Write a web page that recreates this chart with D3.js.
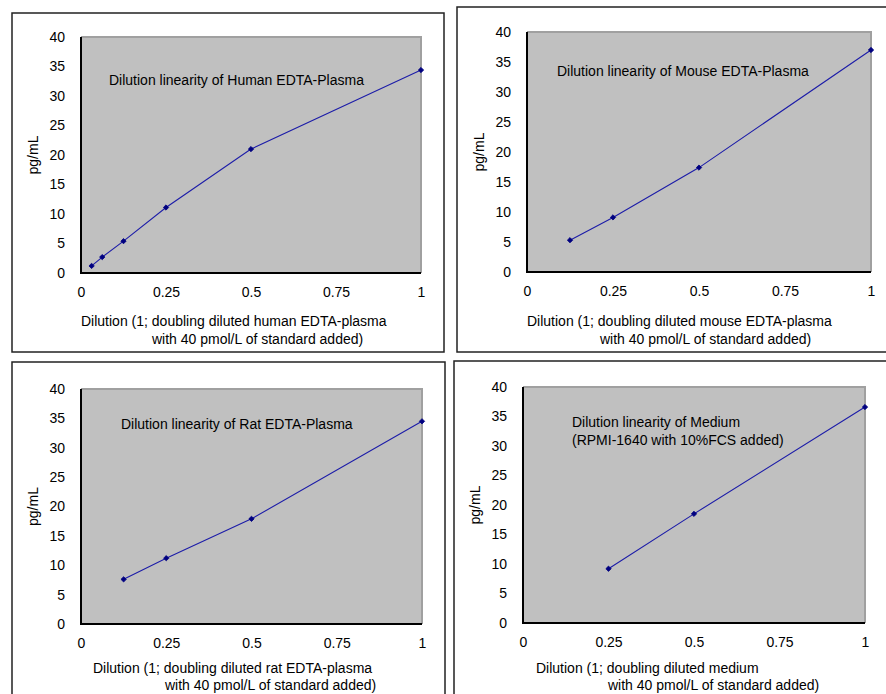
<!DOCTYPE html>
<html>
<head>
<meta charset="utf-8">
<script src="https://cdn.jsdelivr.net/npm/d3@7"></script>
<style>
  body { margin: 0; background: #fff; }
  svg { display: block; font-family: "Liberation Sans", Arial, sans-serif; }
</style>
</head>
<body>
<svg id="chart" width="886" height="694"></svg>
<script>
// data
var xTicks = [0, 0.25, 0.5, 0.75, 1];
var xTickLabels = ["0", "0.25", "0.5", "0.75", "1"];
var yTicks = [0, 5, 10, 15, 20, 25, 30, 35, 40];

var humanX = [0.03125, 0.0625, 0.125, 0.25, 0.5, 1];
var humanY = [1.2, 2.7, 5.4, 11.1, 21.0, 34.4];

var mouseX = [0.125, 0.25, 0.5, 1];
var mouseY = [5.3, 9.1, 17.4, 37.0];

var ratX = [0.125, 0.25, 0.5, 1];
var ratY = [7.6, 11.2, 17.9, 34.5];

var mediumX = [0.25, 0.5, 1];
var mediumY = [9.2, 18.5, 36.6];

var titles = [
  ["Dilution linearity of Human EDTA-Plasma"],
  ["Dilution linearity of Mouse EDTA-Plasma"],
  ["Dilution linearity of Rat EDTA-Plasma"],
  ["Dilution linearity of Medium", "(RPMI-1640 with 10%FCS added)"]
];
var xTitles = [
  ["Dilution (1; doubling diluted human EDTA-plasma", "with 40 pmol/L of standard added)"],
  ["Dilution (1; doubling diluted mouse EDTA-plasma", "with 40 pmol/L of standard added)"],
  ["Dilution (1; doubling diluted rat EDTA-plasma", "with 40 pmol/L of standard added)"],
  ["Dilution (1; doubling diluted medium", "with 40 pmol/L of standard added)"]
];

// layout of each panel (box = outer frame, plot = grey area)
var panels = [
  {xs: humanX, ys: humanY, box: [12, 13, 432, 339], plot: [81, 37, 421, 273],
   tt: [28, 43], xt: [0, 71], xy: [53, 71]},
  {xs: mouseX, ys: mouseY, box: [457, 7, 440, 345], plot: [527, 32, 871, 272],
   tt: [30, 39], xt: [0, 73], xy: [54, 72]},
  {xs: ratX, ys: ratY, box: [12, 362, 433, 345], plot: [81, 389, 422, 624],
   tt: [40, 35], xt: [12, 84], xy: [49, 66]},
  {xs: mediumX, ys: mediumY, box: [454, 361, 440, 345], plot: [523, 387, 865, 623],
   tt: [49, 35], xt: [13, 85], xy: [50, 67]}
];

var svg = d3.select("#chart");
svg.append("rect").attr("width", 886).attr("height", 694).attr("fill", "#fff");

panels.forEach(function(p, i) {
  var g = svg.append("g");
  var x0 = p.plot[0], y0 = p.plot[1], x1 = p.plot[2], y1 = p.plot[3];

  // outer frame
  g.append("rect")
    .attr("x", p.box[0]).attr("y", p.box[1])
    .attr("width", p.box[2]).attr("height", p.box[3])
    .attr("fill", "none").attr("stroke", "#222").attr("stroke-width", 1.5);

  var x = d3.scaleLinear().domain([0, 1]).range([x0, x1]);
  var y = d3.scaleLinear().domain([0, 40]).range([y1, y0]);

  // plot area
  g.append("rect")
    .attr("x", x0).attr("y", y0)
    .attr("width", x1 - x0).attr("height", y1 - y0)
    .attr("fill", "#c0c0c0");
  // top / right edge grey, left / bottom black
  g.append("path")
    .attr("d", "M" + x0 + "," + y0 + "H" + x1 + "V" + y1)
    .attr("fill", "none").attr("stroke", "#a0a0a0").attr("stroke-width", 2);
  g.append("path")
    .attr("d", "M" + x0 + "," + y0 + "V" + y1 + "H" + x1)
    .attr("fill", "none").attr("stroke", "#000").attr("stroke-width", 2);

  // y axis labels
  var yAxis = d3.axisLeft(y).tickValues(yTicks).tickSize(0).tickPadding(16);
  var ya = g.append("g").attr("transform", "translate(" + x0 + ",0)").call(yAxis);
  ya.select(".domain").remove();
  ya.selectAll("text").attr("font-size", 14).attr("fill", "#000")
    .attr("font-family", "Liberation Sans, Arial, sans-serif");

  // x axis labels
  var xAxis = d3.axisBottom(x).tickValues(xTicks).tickSize(0).tickPadding(14)
    .tickFormat(function(d, k) { return xTickLabels[k]; });
  var xa = g.append("g").attr("transform", "translate(0," + y1 + ")").call(xAxis);
  xa.select(".domain").remove();
  xa.selectAll("text").attr("font-size", 14).attr("fill", "#000")
    .attr("font-family", "Liberation Sans, Arial, sans-serif");

  // y title
  g.append("text")
    .attr("transform", "translate(" + (x0 - 43) + "," + ((y0 + y1) / 2) + ") rotate(-90)")
    .attr("text-anchor", "middle")
    .attr("font-size", 14).text("pg/mL");

  // x title (two lines)
  g.append("text").attr("x", x0 + p.xt[0]).attr("y", y1 + p.xy[0])
    .attr("font-size", 14).text(xTitles[i][0]);
  g.append("text").attr("x", x0 + p.xt[1]).attr("y", y1 + p.xy[1])
    .attr("font-size", 14).text(xTitles[i][1]);

  // chart title inside plot
  titles[i].forEach(function(t, k) {
    g.append("text").attr("x", x0 + p.tt[0]).attr("y", y0 + p.tt[1] + 5 + k * 18)
      .attr("font-size", 14).text(t);
  });

  // line and markers
  var pts = p.xs.map(function(v, k) { return [v, p.ys[k]]; });
  g.append("path").datum(pts)
    .attr("fill", "none").attr("stroke", "#1c1ca8").attr("stroke-width", 1.1)
    .attr("d", d3.line().x(function(d) { return x(d[0]); }).y(function(d) { return y(d[1]); }));
  g.selectAll(".pt").data(pts).enter().append("path")
    .attr("class", "pt")
    .attr("transform", function(d) { return "translate(" + x(d[0]) + "," + y(d[1]) + ")"; })
    .attr("d", d3.symbol().type(d3.symbolDiamond2).size(18))
    .attr("fill", "#000080").attr("stroke", "#000080").attr("stroke-width", 0.8);
});
</script>
</body>
</html>
